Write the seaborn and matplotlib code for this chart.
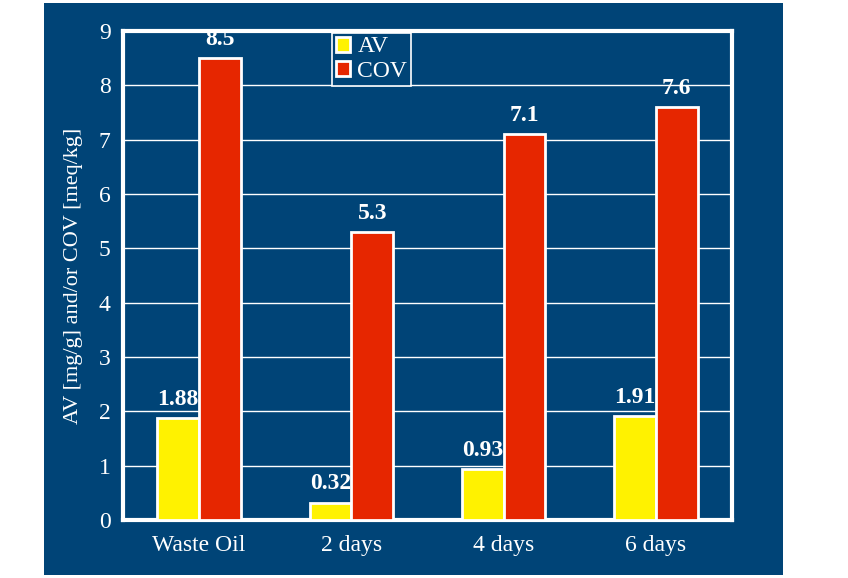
import pandas as pd
import matplotlib.pyplot as plt
import matplotlib.patches as mpatches
import seaborn as sns

# chart data
samples = ['Waste Oil', '2 days', '4 days', '6 days']
av_values = [1.88, 0.32, 0.93, 1.91]
cov_values = [8.5, 5.3, 7.1, 7.6]
av_labels = ['1.88', '0.32', '0.93', '1.91']
cov_labels = ['8.5', '5.3', '7.1', '7.6']
y_ticks = [0, 1, 2, 3, 4, 5, 6, 7, 8, 9]

df = pd.DataFrame({
    'Sample': samples * 2,
    'Value': av_values + cov_values,
    'Param': ['AV'] * len(samples) + ['COV'] * len(samples),
})

blue = '#004477'
colors = {'AV': '#FFF200', 'COV': '#E62600'}

sns.set_style('white')
plt.rcParams['font.family'] = ['Liberation Serif', 'DejaVu Serif']

fig = plt.figure(figsize=(8.48, 5.78), dpi=100)
fig.patch.set_facecolor('white')
# blue panel behind the plot
fig.patches.append(mpatches.Rectangle((44 / 848, 3 / 578), 739 / 848, 572 / 578,
                                      transform=fig.transFigure, facecolor=blue,
                                      edgecolor='none', zorder=-10))

ax = fig.add_axes([123 / 848, 58 / 578, 609 / 848, 489 / 578])
ax.set_facecolor(blue)

sns.barplot(data=df, x='Sample', y='Value', hue='Param', palette=colors,
            saturation=1, edgecolor='white', linewidth=2, width=0.55, ax=ax, zorder=3)

# value labels above bars
for cont, labels in zip(ax.containers, [av_labels, cov_labels]):
    ax.bar_label(cont, labels=labels, padding=6, color='white',
                 fontsize=17, fontweight='bold', zorder=5)

ax.set_ylim(0, 9)
ax.set_xlim(-0.5, len(samples) - 0.5)
ax.set_yticks(y_ticks)
ax.yaxis.grid(True, color='white', linewidth=1, zorder=1)
ax.set_axisbelow(True)
ax.tick_params(axis='y', length=0, colors='white', labelsize=17, pad=9)
ax.tick_params(axis='x', length=0, colors='white', labelsize=17, pad=11)
ax.set_xticks([0.5, 1.5, 2.5], minor=True)
ax.tick_params(axis='x', which='minor', length=5, direction='in', color='white', width=1)

for s in ax.spines.values():
    s.set_color('white')
    s.set_linewidth(3)

ax.set_xlabel('')
ax.set_ylabel('AV [mg/g] and/or COV [meq/kg]', color='white', fontsize=16, labelpad=11)

leg = ax.legend(loc='upper left', bbox_to_anchor=(0.344, 0.996), fontsize=17,
                frameon=True, fancybox=False, handlelength=0.6, handleheight=0.6,
                handletextpad=0.3, borderpad=0.15, labelspacing=0.15,
                borderaxespad=0)
leg.get_frame().set_facecolor(blue)
leg.get_frame().set_edgecolor('white')
leg.get_frame().set_linewidth(1.2)
leg.get_frame().set_alpha(1)
for t in leg.get_texts():
    t.set_color('white')
for h in leg.legend_handles:
    h.set_edgecolor('white')
    h.set_linewidth(2)

fig.savefig('out.png', dpi=100)
